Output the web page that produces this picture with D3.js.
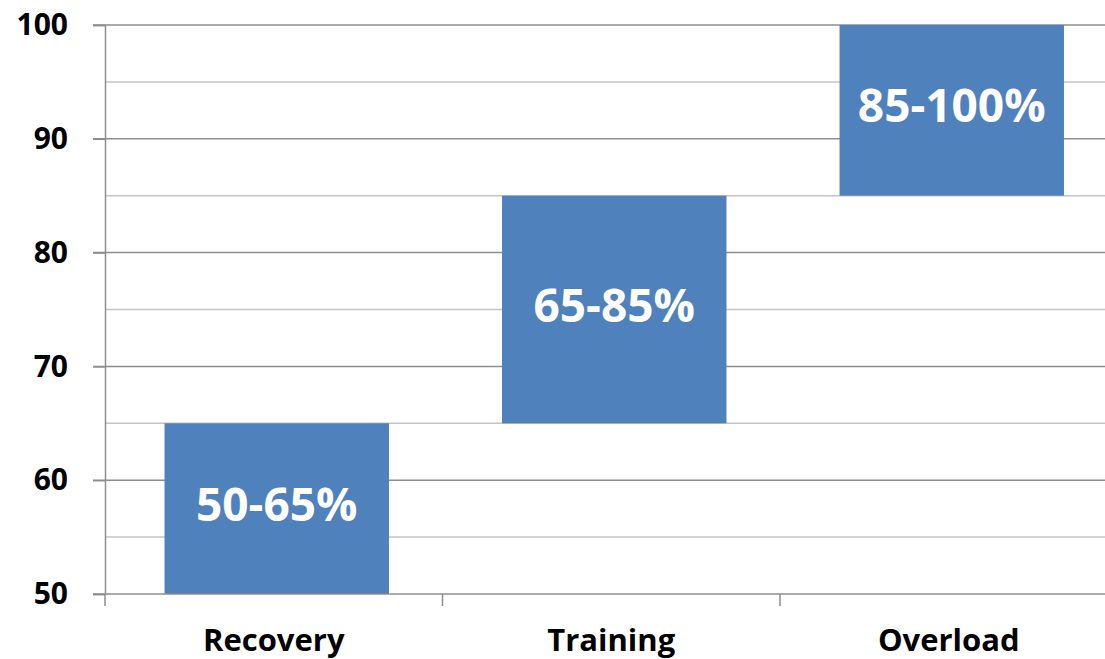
<!DOCTYPE html>
<html>
<head>
<meta charset="utf-8">
<script src="https://cdn.jsdelivr.net/npm/d3@7"></script>
<style>
  html, body { margin: 0; padding: 0; background: #fff; overflow: hidden; }
  svg { display: block; }
  text { font-family: "Open Sans", "Liberation Sans", sans-serif; font-weight: 700; }
</style>
</head>
<body>
<svg id="chart" width="1105" height="659"></svg>
<script>
// Heart-rate training zones (% of max)
const categories = ["Recovery", "Training", "Overload"];
const zoneLow  = [50, 65, 85];
const zoneHigh = [65, 85, 100];
const zoneLabels = ["50-65%", "65-85%", "85-100%"];
const majorTicks = [50, 60, 70, 80, 90, 100];
const minorTicks = [55, 65, 75, 85, 95];

const svg = d3.select("#chart");
const margin = { left: 105, top: 25, bottom: 65 };
const plotH = 659 - margin.top - margin.bottom;
const bandW = 337.5;

const x = d3.scaleBand()
  .domain(categories)
  .range([margin.left, margin.left + bandW * categories.length])
  .paddingInner(0.335)
  .paddingOuter(0.1675);

const y = d3.scaleLinear().domain([50, 100]).range([margin.top + plotH, margin.top]);

// minor gridlines
svg.append("g").selectAll("line").data(minorTicks).join("line")
  .attr("x1", margin.left).attr("x2", 1105)
  .attr("y1", d => y(d)).attr("y2", d => y(d))
  .attr("stroke", "#c4c4c4").attr("stroke-width", 1.5);

// major gridlines
svg.append("g").selectAll("line").data(majorTicks.filter(d => d > 50)).join("line")
  .attr("x1", margin.left - 12).attr("x2", 1105)
  .attr("y1", d => y(d)).attr("y2", d => y(d))
  .attr("stroke", "#8e8e8e").attr("stroke-width", 1.5);

// bars
const shift = 3;
svg.append("g").selectAll("rect").data(categories).join("rect")
  .attr("x", d => x(d) + shift)
  .attr("width", x.bandwidth())
  .attr("y", (d, i) => y(zoneHigh[i]))
  .attr("height", (d, i) => y(zoneLow[i]) - y(zoneHigh[i]))
  .attr("fill", "#4f81bd");

// value labels
svg.append("g").selectAll("text").data(categories).join("text")
  .attr("x", d => x(d) + shift + x.bandwidth() / 2)
  .attr("y", (d, i) => y((zoneLow[i] + zoneHigh[i]) / 2) - 6)
  .attr("text-anchor", "middle")
  .attr("dominant-baseline", "central")
  .attr("fill", "#fff")
  .attr("font-size", 46)
  .text((d, i) => zoneLabels[i]);

// y axis
const yAxis = svg.append("g")
  .attr("transform", `translate(${margin.left},0)`)
  .call(d3.axisLeft(y).tickValues(majorTicks).tickSize(12).tickPadding(25));
yAxis.select(".domain").attr("stroke", "#8e8e8e").attr("stroke-width", 1.5);
yAxis.selectAll(".tick line").attr("stroke", "#8e8e8e").attr("stroke-width", 1.5);
yAxis.selectAll(".tick text").attr("font-size", 30).attr("fill", "#000")
  .attr("font-family", "'Open Sans', sans-serif").attr("font-weight", 700);

// x axis
const xAxis = svg.append("g")
  .attr("transform", `translate(0,${y(50)})`);
xAxis.append("line")
  .attr("x1", margin.left - 12).attr("x2", 1105)
  .attr("stroke", "#8e8e8e").attr("stroke-width", 1.5);
const boundaries = d3.range(categories.length).map(i => margin.left + i * bandW);
xAxis.selectAll(".sep").data(boundaries).join("line")
  .attr("class", "sep")
  .attr("x1", d => d).attr("x2", d => d)
  .attr("y1", 0).attr("y2", 12)
  .attr("stroke", "#8e8e8e").attr("stroke-width", 1.5);
xAxis.selectAll(".cat").data(categories).join("text")
  .attr("class", "cat")
  .attr("x", d => x(d) + x.bandwidth() / 2)
  .attr("y", 57)
  .attr("text-anchor", "middle")
  .attr("font-size", 31)
  .attr("fill", "#000")
  .text(d => d);
</script>
</body>
</html>
